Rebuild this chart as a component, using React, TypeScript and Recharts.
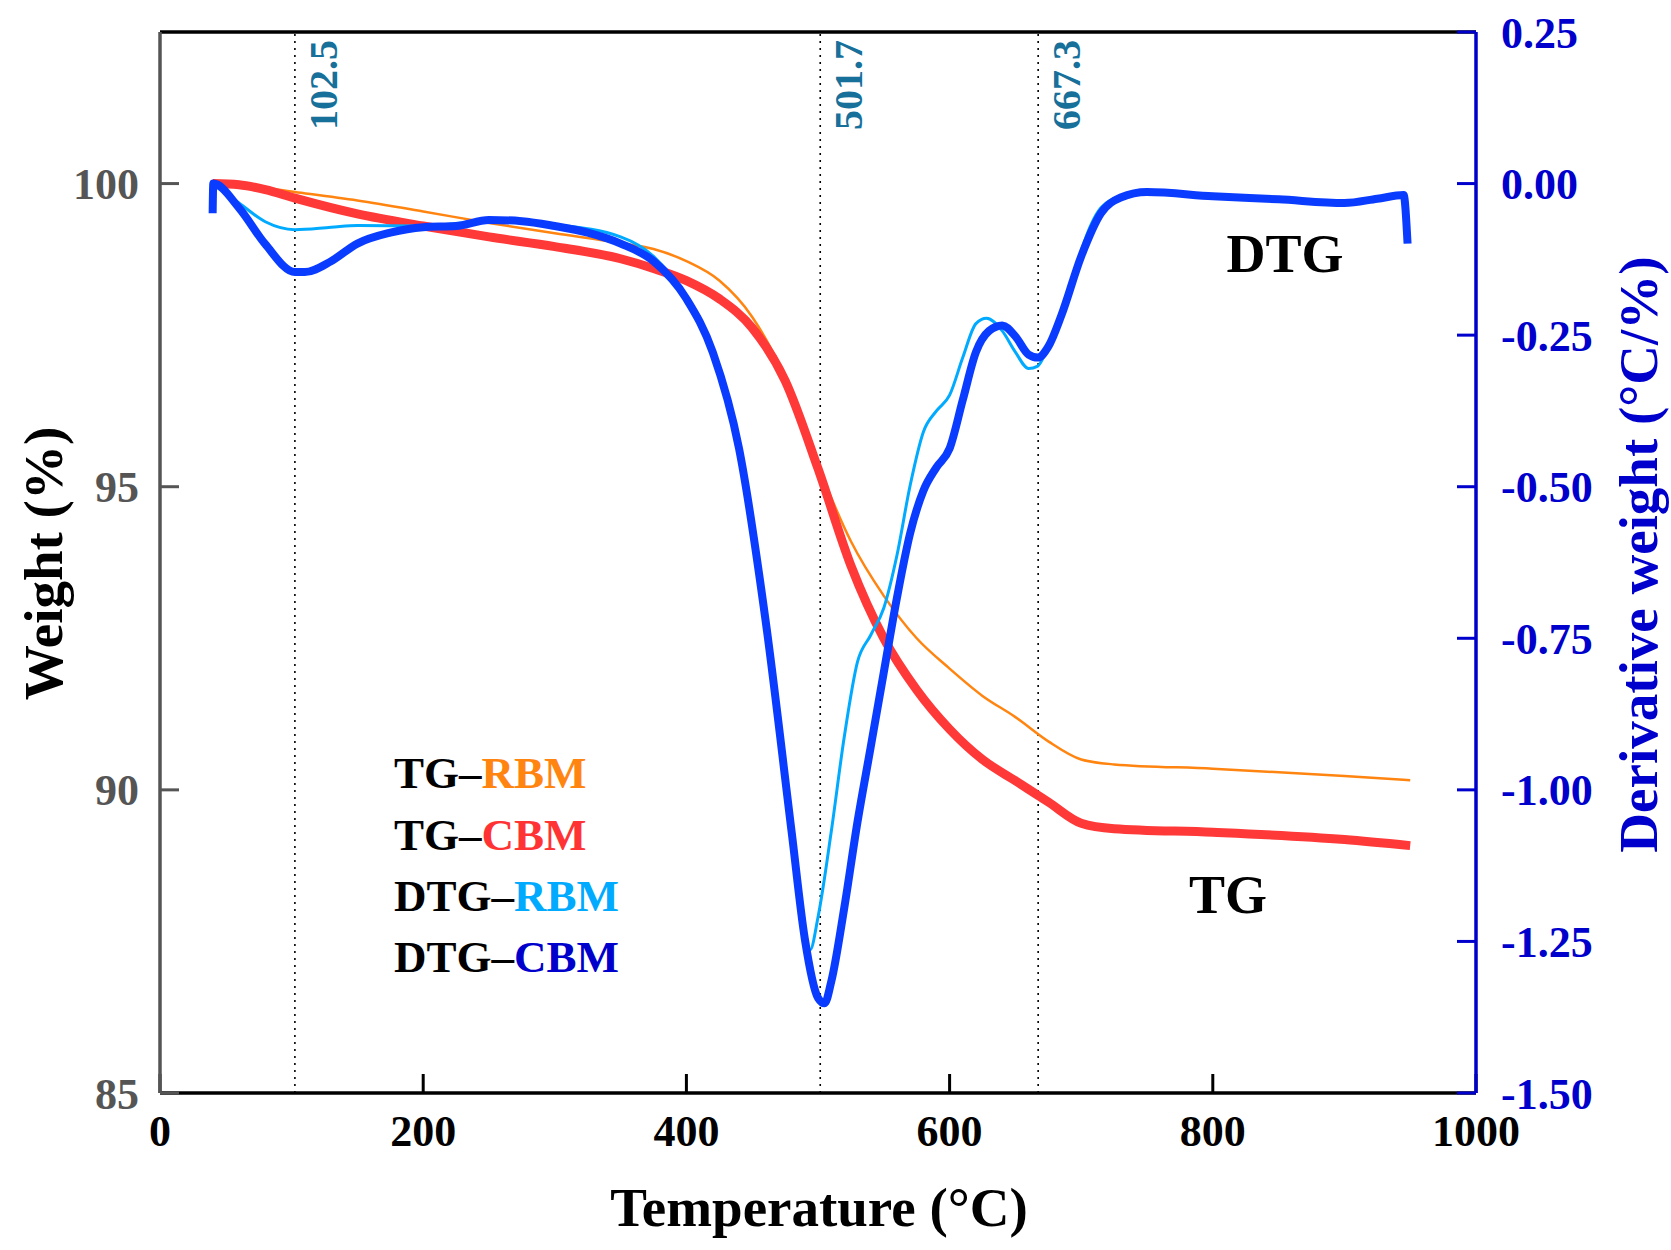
import React from 'react';
import { LineChart, Line, XAxis, YAxis, ReferenceLine } from 'recharts';

// TG curves, weight (%)
const tgRbmTemp = [40, 60, 102.5, 150, 200, 250, 300, 350, 375, 400, 425, 450, 475, 500, 525, 550, 575, 600, 625, 650, 675, 700, 725, 800, 900, 950];
const tgRbmWeight = [100, 99.98, 99.86, 99.72, 99.54, 99.35, 99.18, 99.02, 98.92, 98.72, 98.4, 97.8, 96.8, 95.35, 94.1, 93.2, 92.5, 92.0, 91.55, 91.2, 90.8, 90.5, 90.42, 90.35, 90.23, 90.16];

const tgCbmTemp = [40, 60, 80, 102.5, 150, 200, 250, 300, 350, 375, 400, 425, 450, 475, 500, 525, 550, 575, 600, 625, 650, 675, 700, 725, 800, 900, 950];
const tgCbmWeight = [100, 99.98, 99.9, 99.76, 99.5, 99.3, 99.12, 98.96, 98.76, 98.6, 98.4, 98.1, 97.62, 96.75, 95.3, 93.7, 92.5, 91.65, 91.0, 90.5, 90.15, 89.8, 89.45, 89.36, 89.3, 89.18, 89.08];

// DTG curves, derivative weight
const dtgRbmTemp = [40, 60, 80, 102.5, 130, 150, 200, 250, 300, 350, 375, 400, 420, 440, 460, 480, 490, 494, 500, 510, 520, 530, 540, 550, 560, 570, 580, 590, 600, 610, 620, 628, 640, 650, 660, 667, 675, 690, 700, 715, 730, 750, 800, 850, 900, 925, 945];
const dtgRbmValue = [0, -0.032, -0.063, -0.076, -0.072, -0.069, -0.07, -0.062, -0.068, -0.088, -0.12, -0.19, -0.278, -0.437, -0.71, -1.06, -1.235, -1.264, -1.21, -1.07, -0.912, -0.789, -0.745, -0.7, -0.613, -0.498, -0.41, -0.375, -0.349, -0.287, -0.231, -0.222, -0.243, -0.278, -0.305, -0.301, -0.269, -0.19, -0.111, -0.04, -0.021, -0.014, -0.021, -0.026, -0.032, -0.025, -0.019];

const dtgCbmTemp = [40, 40.5, 60, 80, 102.5, 110, 130, 150, 175, 200, 225, 250, 275, 300, 325, 350, 375, 400, 420, 440, 460, 480, 490, 500, 505, 510, 520, 530, 540, 550, 560, 570, 580, 590, 600, 610, 620, 630, 640, 650, 660, 667, 675, 685, 700, 715, 730, 750, 800, 850, 900, 925, 945, 948];
const dtgCbmValue = [-0.049, 0, -0.04, -0.1, -0.146, -0.146, -0.128, -0.099, -0.081, -0.072, -0.07, -0.06, -0.062, -0.07, -0.081, -0.099, -0.128, -0.19, -0.278, -0.437, -0.718, -1.07, -1.246, -1.343, -1.352, -1.317, -1.194, -1.053, -0.93, -0.806, -0.683, -0.577, -0.507, -0.468, -0.437, -0.357, -0.278, -0.243, -0.234, -0.252, -0.282, -0.287, -0.269, -0.217, -0.12, -0.049, -0.023, -0.014, -0.021, -0.026, -0.032, -0.025, -0.019, -0.099];

const peakTemps = [102.5, 501.7, 667.3];
const xTicks = [0, 200, 400, 600, 800, 1000];
const weightTicks = [85, 90, 95, 100];
const dtgTicks = [-1.5, -1.25, -1.0, -0.75, -0.5, -0.25, 0, 0.25];

const legendItems = [
  { prefix: 'TG–', name: 'RBM', color: '#ff8410' },
  { prefix: 'TG–', name: 'CBM', color: '#ff3333' },
  { prefix: 'DTG–', name: 'RBM', color: '#00aaff' },
  { prefix: 'DTG–', name: 'CBM', color: '#0000cc' },
];

const toPoints = (temps: number[], values: number[]) =>
  temps.map((t, i) => ({ t, v: values[i] }));

const FONT = '"Liberation Serif", "Times New Roman", serif';
const W = 1671;
const H = 1250;

const rotated = (cx: number, cy: number, size: number, color: string, text: string) => (
  <div
    style={{
      position: 'absolute',
      left: cx - 400,
      top: cy - size / 2,
      width: 800,
      height: size,
      lineHeight: `${size}px`,
      textAlign: 'center',
      transform: 'rotate(-90deg)',
      fontSize: size,
      fontWeight: 'bold',
      color,
      whiteSpace: 'nowrap',
    }}
  >
    {text}
  </div>
);

const peakLabel = (value: number) => (props: any) => {
  const vb = props.viewBox || {};
  const x = vb.x + 42;
  const y = vb.y + 98;
  return (
    <text
      x={x}
      y={y}
      transform={`rotate(-90 ${x} ${y})`}
      fill="#16709a"
      fontSize={40}
      fontWeight="bold"
      fontFamily={FONT}
    >
      {value.toFixed(1)}
    </text>
  );
};

export default function App() {
  return (
    <div style={{ position: 'absolute', left: 0, top: 0, width: W, height: H, fontFamily: FONT, background: '#fff' }}>
      <LineChart width={W} height={H} margin={{ top: 32, right: 0, bottom: 0, left: 0 }}>
        <XAxis
          xAxisId="x"
          dataKey="t"
          type="number"
          domain={[0, 1000]}
          ticks={xTicks}
          height={157}
          allowDataOverflow
          stroke="#000"
          strokeWidth={3.5}
          tickSize={-19}
          tickMargin={41}
          tickLine={{ stroke: '#000', strokeWidth: 3 }}
          tick={{ fill: '#000', fontSize: 44, fontWeight: 'bold', fontFamily: FONT }}
        />
        <YAxis
          yAxisId="left"
          orientation="left"
          type="number"
          domain={[85, 102.5]}
          ticks={weightTicks}
          width={160}
          allowDataOverflow
          stroke="#555"
          strokeWidth={3.5}
          tickSize={-19}
          tickMargin={40}
          tickLine={{ stroke: '#555', strokeWidth: 3 }}
          tick={{ fill: '#555', fontSize: 44, fontWeight: 'bold', fontFamily: FONT }}
        />
        <YAxis
          yAxisId="right"
          orientation="right"
          type="number"
          domain={[-1.5, 0.25]}
          ticks={dtgTicks}
          width={195}
          allowDataOverflow
          stroke="#0000cc"
          strokeWidth={3.5}
          tickSize={-19}
          tickMargin={44}
          tickLine={{ stroke: '#0000cc', strokeWidth: 3 }}
          tickFormatter={(v: number) => v.toFixed(2)}
          tick={{ fill: '#0000cc', fontSize: 44, fontWeight: 'bold', fontFamily: FONT }}
        />
        <ReferenceLine xAxisId="x" yAxisId="left" y={102.5} stroke="#000" strokeWidth={3.5} />
        {peakTemps.map((p) => (
          <ReferenceLine
            key={p}
            xAxisId="x"
            yAxisId="left"
            x={p}
            stroke="#000"
            strokeWidth={1.6}
            strokeDasharray="2 5"
            label={peakLabel(p)}
          />
        ))}
        <Line
          xAxisId="x"
          yAxisId="left"
          data={toPoints(tgRbmTemp, tgRbmWeight)}
          dataKey="v"
          type="monotone"
          stroke="#ff8410"
          strokeWidth={2.5}
          dot={false}
          isAnimationActive={false}
        />
        <Line
          xAxisId="x"
          yAxisId="left"
          data={toPoints(tgCbmTemp, tgCbmWeight)}
          dataKey="v"
          type="monotone"
          stroke="#ff3838"
          strokeWidth={9}
          dot={false}
          isAnimationActive={false}
        />
        <Line
          xAxisId="x"
          yAxisId="right"
          data={toPoints(dtgRbmTemp, dtgRbmValue)}
          dataKey="v"
          type="monotone"
          stroke="#00aaff"
          strokeWidth={3}
          dot={false}
          isAnimationActive={false}
        />
        <Line
          xAxisId="x"
          yAxisId="right"
          data={toPoints(dtgCbmTemp, dtgCbmValue)}
          dataKey="v"
          type="monotone"
          stroke="#0a3cff"
          strokeWidth={8}
          dot={false}
          isAnimationActive={false}
        />
      </LineChart>

      {legendItems.map((item, i) => (
        <div
          key={i}
          style={{
            position: 'absolute',
            left: 394,
            top: [773, 835, 896, 957][i] - 25,
            fontSize: 45,
            lineHeight: '50px',
            fontWeight: 'bold',
            whiteSpace: 'nowrap',
          }}
        >
          <span style={{ color: '#000' }}>{item.prefix}</span>
          <span style={{ color: item.color }}>{item.name}</span>
        </div>
      ))}

      <div style={{ position: 'absolute', left: 1185, top: 226, width: 200, textAlign: 'center', fontSize: 54, lineHeight: '56px', fontWeight: 'bold' }}>DTG</div>
      <div style={{ position: 'absolute', left: 1128, top: 867, width: 200, textAlign: 'center', fontSize: 54, lineHeight: '56px', fontWeight: 'bold' }}>TG</div>

      <div style={{ position: 'absolute', left: 419, top: 1180, width: 800, textAlign: 'center', fontSize: 55, lineHeight: '56px', fontWeight: 'bold' }}>
        Temperature (°C)
      </div>
      {rotated(43, 563, 55, '#000', 'Weight (%)')}
      {rotated(1638, 554, 55, '#0000cc', 'Derivative weight (°C/%)')}
    </div>
  );
}
